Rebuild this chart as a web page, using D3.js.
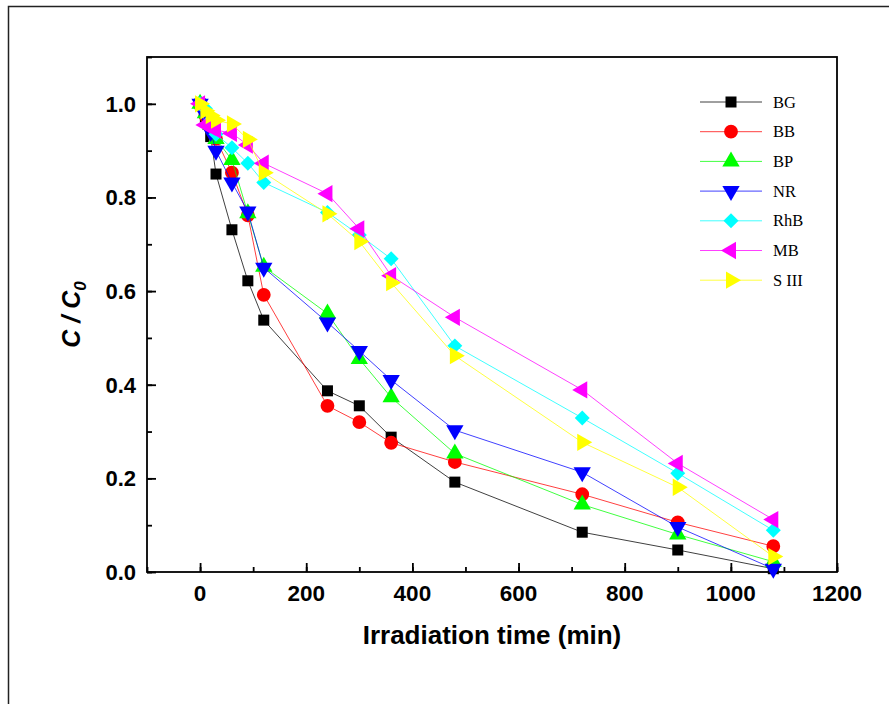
<!DOCTYPE html>
<html>
<head>
<meta charset="utf-8">
<script src="https://cdn.jsdelivr.net/npm/d3@7"></script>
<style>
  body { margin: 0; background: #fff; }
  svg { display: block; }
</style>
</head>
<body>
<div id="chart"></div>
<script>
// irradiation times (min)
const times = [0, 10, 20, 30, 60, 90, 120, 240, 300, 360, 480, 720, 900, 1080];

// C / C0 for each dye
const bgValues  = [1.0, 0.97, 0.93, 0.85, 0.731, 0.622, 0.538, 0.387, 0.355, 0.288, 0.192, 0.085, 0.047, 0.007];
const bbValues  = [1.0, 0.975, 0.95, 0.925, 0.853, 0.762, 0.592, 0.355, 0.32, 0.276, 0.235, 0.166, 0.106, 0.055];
const bpValues  = [1.0, 0.98, 0.955, 0.925, 0.88, 0.766, 0.652, 0.552, 0.455, 0.373, 0.253, 0.144, 0.08, 0.022];
const nrValues  = [1.0, 0.975, 0.94, 0.9, 0.832, 0.77, 0.65, 0.533, 0.472, 0.41, 0.303, 0.213, 0.096, 0.007];
const rhbValues = [1.0, 0.99, 0.965, 0.935, 0.906, 0.873, 0.832, 0.768, 0.72, 0.669, 0.483, 0.329, 0.211, 0.089];
const mbValues  = [1.0, 0.955, 0.95, 0.944, 0.937, 0.912, 0.873, 0.808, 0.733, 0.633, 0.544, 0.389, 0.232, 0.112];
const s3Values  = [1.0, 0.985, 0.975, 0.965, 0.957, 0.924, 0.853, 0.765, 0.706, 0.618, 0.462, 0.277, 0.181, 0.033];

const seriesNames = ["BG", "BB", "BP", "NR", "RhB", "MB", "S III"];
const seriesValues = [bgValues, bbValues, bpValues, nrValues, rhbValues, mbValues, s3Values];

const xTicks = [0, 200, 400, 600, 800, 1000, 1200];
const yTicks = [0.0, 0.2, 0.4, 0.6, 0.8, 1.0];

// look of each series
const colors = ["#000000", "#ff0000", "#00ff00", "#0000ff", "#00ffff", "#ff00ff", "#ffff00"];
const shapes = [
    {type: d3.symbolSquare,   size: 121, rotate: 0},
    {type: d3.symbolCircle,   size: 150, rotate: 0},
    {type: d3.symbolTriangle, size: 130, rotate: 0},
    {type: d3.symbolTriangle, size: 130, rotate: 180},
    {type: d3.symbolSquare,   size: 112, rotate: 45},   // diamond
    {type: d3.symbolTriangle, size: 130, rotate: -90},
    {type: d3.symbolTriangle, size: 130, rotate: 90}
];

const width = 889, height = 704;
const margin = {top: 57, right: 52, bottom: 132, left: 147};

const svg = d3.select("#chart")
    .append("svg")
    .attr("width", width)
    .attr("height", height);

// outer frame of the figure (runs off the page on right and bottom)
svg.append("rect")
    .attr("x", 8.5)
    .attr("y", 6.5)
    .attr("width", 1000)
    .attr("height", 1000)
    .style("fill", "none")
    .style("stroke", "#222")
    .style("stroke-width", 1.5);

const x = d3.scaleLinear()
    .domain([-100, 1200])
    .range([margin.left, width - margin.right]);

const y = d3.scaleLinear()
    .domain([0, 1.1])
    .range([height - margin.bottom, margin.top]);

// plot box
svg.append("rect")
    .attr("x", x(-100))
    .attr("y", y(1.1))
    .attr("width", x(1200) - x(-100))
    .attr("height", y(0) - y(1.1))
    .style("fill", "none")
    .style("stroke", "#000")
    .style("stroke-width", 1.8);

// minor ticks first, then labelled major ticks (both point inward)
const xMinor = d3.axisTop(x).tickValues(d3.range(-100, 1201, 100)).tickSize(5).tickFormat("");
const xMajor = d3.axisTop(x).tickValues(xTicks).tickSize(9).tickFormat("");
const yMinor = d3.axisRight(y).tickValues(d3.range(0, 1.11, 0.1)).tickSize(5).tickFormat("");
const yMajor = d3.axisRight(y).tickValues(yTicks).tickSize(9).tickFormat("");

[xMinor, xMajor].forEach(ax => {
    svg.append("g")
        .attr("transform", `translate(0,${y(0)})`)
        .call(ax)
        .call(g => g.select(".domain").remove())
        .call(g => g.selectAll("line").attr("stroke", "#000").attr("stroke-width", 1.8));
});
[yMinor, yMajor].forEach(ax => {
    svg.append("g")
        .attr("transform", `translate(${x(-100)},0)`)
        .call(ax)
        .call(g => g.select(".domain").remove())
        .call(g => g.selectAll("line").attr("stroke", "#000").attr("stroke-width", 1.8));
});

// tick labels
svg.append("g")
    .selectAll("text")
    .data(xTicks)
    .enter()
    .append("text")
    .attr("x", d => x(d))
    .attr("y", y(0) + 29)
    .attr("text-anchor", "middle")
    .style("font-family", "'Liberation Sans', Arial, sans-serif")
    .style("font-weight", "bold")
    .style("font-size", "22.5px")
    .text(d => d);

svg.append("g")
    .selectAll("text")
    .data(yTicks)
    .enter()
    .append("text")
    .attr("x", x(-100) - 11)
    .attr("y", d => y(d) + 8)
    .attr("text-anchor", "end")
    .style("font-family", "'Liberation Sans', Arial, sans-serif")
    .style("font-weight", "bold")
    .style("font-size", "22px")
    .text(d => d.toFixed(1));

// axis titles
svg.append("text")
    .attr("x", (x(-100) + x(1200)) / 2)
    .attr("y", 644)
    .attr("text-anchor", "middle")
    .style("font-family", "'Liberation Sans', Arial, sans-serif")
    .style("font-weight", "bold")
    .style("font-size", "26px")
    .text("Irradiation time (min)");

const yTitle = svg.append("text")
    .attr("transform", `translate(80,${(y(0) + y(1.1)) / 2}) rotate(-90)`)
    .attr("text-anchor", "middle")
    .style("font-family", "'Liberation Sans', Arial, sans-serif")
    .style("font-weight", "bold")
    .style("font-style", "italic")
    .style("font-size", "25px");
yTitle.append("tspan").text("C / C");
yTitle.append("tspan").attr("dy", 6).style("font-size", "17px").text("0");

// series: line then its markers, in legend order
const line = d3.line()
    .x((d, i) => x(times[i]))
    .y(d => y(d));

const symbolPath = s => d3.symbol().type(s.type).size(s.size)();

seriesValues.forEach((values, k) => {
    const g = svg.append("g");
    g.append("path")
        .datum(values)
        .attr("d", line)
        .style("fill", "none")
        .style("stroke", colors[k])
        .style("stroke-width", 1)
        .style("stroke-opacity", 0.75);
    g.selectAll("path.marker")
        .data(values)
        .enter()
        .append("path")
        .attr("class", "marker")
        .attr("d", symbolPath(shapes[k]))
        .attr("transform", (d, i) => `translate(${x(times[i])},${y(d)}) rotate(${shapes[k].rotate})`)
        .style("fill", colors[k]);
});

// legend
const legend = svg.append("g").attr("transform", "translate(700,102)");
seriesNames.forEach((name, k) => {
    const row = legend.append("g").attr("transform", `translate(0,${k * 29.7})`);
    row.append("line")
        .attr("x1", 0).attr("x2", 62)
        .attr("y1", 0).attr("y2", 0)
        .style("stroke", colors[k])
        .style("stroke-width", 1)
        .style("stroke-opacity", 0.75);
    row.append("path")
        .attr("d", symbolPath(shapes[k]))
        .attr("transform", `translate(31,0) rotate(${shapes[k].rotate})`)
        .style("fill", colors[k]);
    row.append("text")
        .attr("x", 73)
        .attr("y", 5.5)
        .style("font-family", "'Liberation Serif', 'Times New Roman', serif")
        .style("font-size", "16.5px")
        .text(name);
});
</script>
</body>
</html>
